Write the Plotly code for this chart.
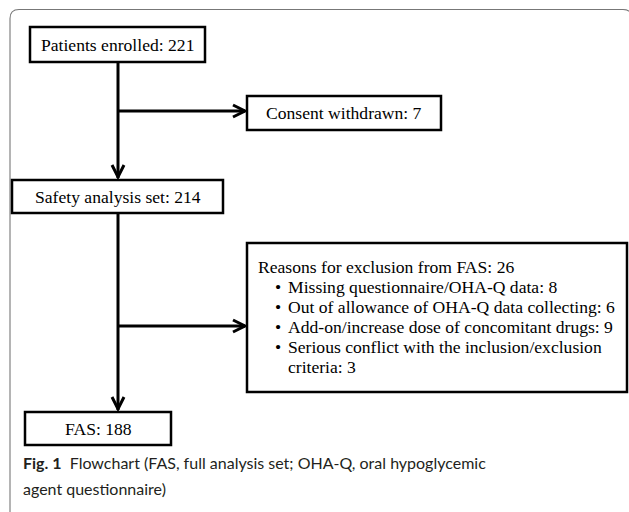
import plotly.graph_objects as go

# ---- data ----
stage_labels = ["Patients enrolled", "Safety analysis set", "FAS"]
stage_counts = [221, 214, 188]
excl1_label = "Consent withdrawn"
excl1_count = 7
excl2_title = "Reasons for exclusion from FAS"
excl2_total = 26
excl2_reasons = [
    "Missing questionnaire/OHA-Q data: 8",
    "Out of allowance of OHA-Q data collecting: 6",
    "Add-on/increase dose of concomitant drugs: 9",
    "Serious conflict with the inclusion/exclusion",
]
excl2_reason_cont = "criteria: 3"
caption_bold = "Fig. 1"
caption_lines = ["Flowchart (FAS, full analysis set; OHA-Q, oral hypoglycemic",
                 "agent questionnaire)"]

# ---- layout geometry (pixels) ----
W, H = 629, 512
stage_boxes = [(30, 27, 205, 62), (12, 180, 223, 213), (25, 412, 171, 445)]
consent_box = (247, 96, 441, 130)
excl_box = (247, 243, 627, 392)
xm = 118

SERIF = "Liberation Serif, Tinos, Times New Roman, DejaVu Serif, serif"
SANS = "Lato"
FS = 17.6

shapes = []
annotations = []

def box(b, w=2.5):
    shapes.append(dict(type="rect", x0=b[0], y0=b[1], x1=b[2], y1=b[3],
                       line=dict(color="black", width=w), fillcolor="white", layer="above"))

def line(x0, y0, x1, y1, w=3):
    shapes.append(dict(type="line", x0=x0, y0=y0, x1=x1, y1=y1,
                       line=dict(color="black", width=w)))

def chevron(tx, ty, direction):
    L, Hh = 12, 6
    if direction == "right":
        p = f"M {tx-L},{ty-Hh} L {tx},{ty} L {tx-L},{ty+Hh}"
    else:
        p = f"M {xm-Hh},{ty-L} L {tx},{ty} L {tx+Hh},{ty-L}"
    shapes.append(dict(type="path", path=p, line=dict(color="black", width=3)))

# outer rounded frame
r = 9
fx0, fy0 = 10, 9.5
fx1, fy1 = 632, 540
shapes.append(dict(type="path",
                   path=f"M {fx0},{fy1} L {fx0},{fy0+r} Q {fx0},{fy0} {fx0+r},{fy0} "
                        f"L {fx1-r},{fy0} Q {fx1},{fy0} {fx1},{fy0+r} L {fx1},{fy1}",
                   line=dict(color="#777777", width=1.1)))

# connectors
line(xm, stage_boxes[0][3], xm, stage_boxes[1][1] - 2)
line(xm, 111, consent_box[0] - 2, 111)
chevron(consent_box[0] - 2, 111, "right")
chevron(xm, stage_boxes[1][1] - 3, "down")
line(xm, stage_boxes[1][3], xm, stage_boxes[2][1] - 2)
line(xm, 326, excl_box[0] - 2, 326)
chevron(excl_box[0] - 2, 326, "right")
chevron(xm, stage_boxes[2][1] - 3, "down")

# boxes
for b in stage_boxes:
    box(b)
box(consent_box)
box(excl_box)

def text(x, y, s, size=FS, xanchor="center", family=SERIF, color="black"):
    annotations.append(dict(x=x, y=y, text=s, showarrow=False, xanchor=xanchor,
                            yanchor="middle", font=dict(family=family, size=size, color=color)))

for b, lab, n in zip(stage_boxes, stage_labels, stage_counts):
    text((b[0] + b[2]) / 2, (b[1] + b[3]) / 2, f"{lab}: {n}")
text((consent_box[0] + consent_box[2]) / 2, (consent_box[1] + consent_box[3]) / 2,
     f"{excl1_label}: {excl1_count}")

ly0, dy = 266.5, 20
text(256, ly0, f"{excl2_title}: {excl2_total}", xanchor="left")
for i, s in enumerate(excl2_reasons):
    y = ly0 + dy * (i + 1)
    text(273, y, "•", xanchor="left")
    text(286, y, s, xanchor="left")
text(286, ly0 + dy * 5, excl2_reason_cont, xanchor="left")

text(21, 462, f"<b>{caption_bold}</b>  {caption_lines[0]}", size=16, xanchor="left",
     family=SANS, color="#231f20")
text(21, 488, caption_lines[1], size=16, xanchor="left", family=SANS, color="#231f20")

fig = go.Figure()
fig.update_layout(
    width=W, height=H, margin=dict(l=0, r=0, t=0, b=0),
    paper_bgcolor="white", plot_bgcolor="white",
    xaxis=dict(range=[0, W], visible=False, fixedrange=True),
    yaxis=dict(range=[H, 0], visible=False, fixedrange=True),
    shapes=shapes, annotations=annotations, showlegend=False,
)
fig.write_html("out.html", config={"displayModeBar": False},
               post_script="document.body.style.margin='0';document.body.style.overflow='hidden';")
